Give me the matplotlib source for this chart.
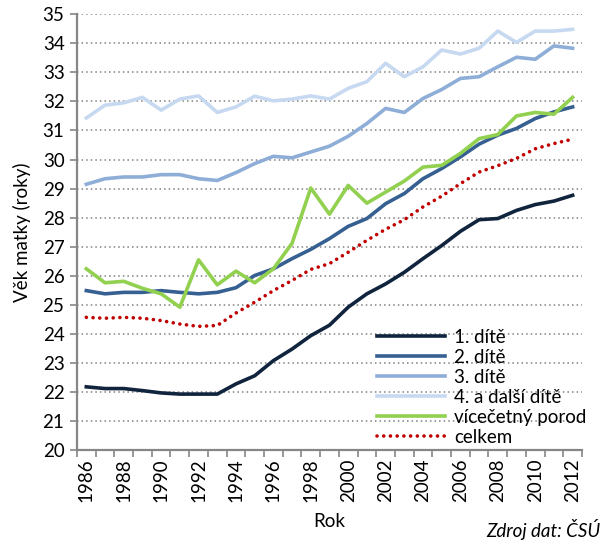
import matplotlib
matplotlib.use('Agg')
import matplotlib.pyplot as plt
import numpy as np

plt.rcParams['font.family'] = ['Lato', 'DejaVu Sans']

roky = list(range(1986, 2013))

dite1 = [22.18, 22.12, 22.12, 22.05, 21.97, 21.93, 21.93, 21.93, 22.28, 22.56,
         23.08, 23.48, 23.94, 24.30, 24.92, 25.38, 25.72, 26.12, 26.59, 27.04,
         27.53, 27.93, 27.97, 28.25, 28.45, 28.57, 28.77]
dite2 = [25.49, 25.38, 25.43, 25.43, 25.49, 25.43, 25.38, 25.43, 25.59, 26.01,
         26.24, 26.59, 26.91, 27.28, 27.70, 27.97, 28.48, 28.83, 29.34, 29.69,
         30.09, 30.53, 30.84, 31.07, 31.41, 31.64, 31.81]
dite3 = [29.15, 29.34, 29.40, 29.40, 29.48, 29.48, 29.34, 29.28, 29.55, 29.86,
         30.11, 30.06, 30.26, 30.46, 30.80, 31.24, 31.76, 31.62, 32.10, 32.41,
         32.79, 32.85, 33.19, 33.52, 33.45, 33.91, 33.83]
dite4 = [31.43, 31.87, 31.95, 32.14, 31.70, 32.08, 32.19, 31.62, 31.81, 32.18,
         32.02, 32.08, 32.19, 32.08, 32.45, 32.68, 33.31, 32.85, 33.19, 33.77,
         33.63, 33.83, 34.42, 34.03, 34.42, 34.42, 34.48]
vicecetny = [26.24, 25.76, 25.81, 25.57, 25.38, 24.92, 26.55, 25.69, 26.16, 25.76,
             26.24, 27.12, 29.02, 28.12, 29.11, 28.50, 28.88, 29.26, 29.74, 29.80,
             30.21, 30.72, 30.86, 31.50, 31.62, 31.56, 32.14]
celkem = [24.57, 24.54, 24.57, 24.54, 24.46, 24.34, 24.26, 24.29, 24.72, 25.09,
          25.49, 25.84, 26.22, 26.42, 26.81, 27.22, 27.60, 27.93, 28.37, 28.74,
          29.17, 29.57, 29.79, 30.04, 30.37, 30.55, 30.70]

fig = plt.figure(figsize=(6.08, 5.47), dpi=100)
ax = fig.add_axes([0.1266, 0.177, 0.8306, 0.797])

ax.plot(roky, dite1, color='#10243E', lw=2.6, label='1. dítě')
ax.plot(roky, dite2, color='#376092', lw=2.6, label='2. dítě')
ax.plot(roky, dite3, color='#8EAED8', lw=2.6, label='3. dítě')
ax.plot(roky, dite4, color='#C6D9F1', lw=2.6, label='4. a další dítě')
ax.plot(roky, vicecetny, color='#92D050', lw=2.6, label='vícečetný porod')
ax.plot(roky, celkem, color='#C00000', lw=2.6, ls=(0, (0.01, 1.85)),
        dash_capstyle='round', label='celkem')

ax.set_xlim(1985.5, 2012.5)
ax.set_ylim(20, 35)
ax.set_yticks(range(20, 36))
ax.yaxis.grid(True, color='#808080', ls=(0, (1, 2)), lw=1.1)
ax.set_axisbelow(True)

ax.set_xticks(range(1986, 2013, 2))
ax.set_xticklabels([str(r) for r in range(1986, 2013, 2)], rotation=90)
ax.set_xticks(np.arange(1985.5, 2013, 1), minor=True)
ax.tick_params(axis='x', which='major', length=0, labelsize=13.5, pad=6)
ax.tick_params(axis='x', which='minor', length=5, width=1.2, color='#868686')
ax.tick_params(axis='y', length=5, width=1.2, color='#868686', labelsize=13.5, pad=4)

for s in ['top', 'right']:
    ax.spines[s].set_visible(False)
for s in ['left', 'bottom']:
    ax.spines[s].set_color('#868686')
    ax.spines[s].set_linewidth(1.6)

ax.set_ylabel('Věk matky (roky)', fontsize=13.5, labelpad=8)
ax.set_xlabel('Rok', fontsize=13.5, labelpad=8)

ax.legend(loc='lower right', bbox_to_anchor=(1.035, -0.02), frameon=False,
          fontsize=13.5, handlelength=3.6, handletextpad=0.5, labelspacing=0.16,
          borderpad=0.2)

fig.text(0.987, 0.012, 'Zdroj dat: ČSÚ', ha='right', va='bottom',
         fontsize=13.5, style='italic')

fig.savefig('out.png', dpi=100)
